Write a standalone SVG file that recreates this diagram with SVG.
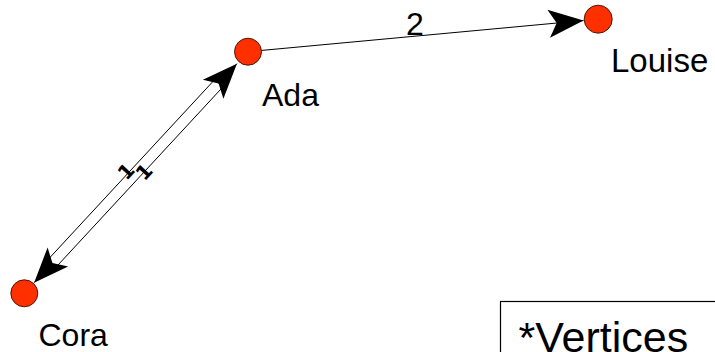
<svg xmlns="http://www.w3.org/2000/svg" width="715" height="352" viewBox="0 0 715 352">
<style>
.node circle{fill:#ff3000;stroke:#3a0a00;stroke-width:0.9}
.lbl{font-family:"Liberation Sans",Arial,Helvetica,sans-serif;font-size:32px;fill:#000}
.edge{fill:none;stroke:#000;stroke-width:1;marker-end:url(#arr)}
.elbl{font-family:"Liberation Sans",Arial,sans-serif;font-size:32px;fill:#000;text-anchor:middle}
.tick{font-family:"DejaVu Sans",sans-serif;font-weight:bold;font-size:20px;fill:#000;text-anchor:middle;dominant-baseline:central}
</style>
<defs>
<marker id="arr" markerUnits="userSpaceOnUse" viewBox="-38 -16 40 32" markerWidth="40" markerHeight="32" refX="0" refY="0" orient="auto" overflow="visible">
<path d="M0,0 L-35,-14 L-27,0 L-35,14 Z" fill="#000"/>
</marker>
</defs>
<rect width="715" height="352" fill="#fff"/>
<g id="connectors">
<g id="edge-ada-louise">
<path class="edge" d="M261.4,50.45 L583.56,20.56"/>
<text class="elbl" x="415" y="35">2</text>
</g>
<g id="edge-cora-ada">
<path class="edge" d="M44.72,263.15 L218.63,75.32 M218.58,83.46 L236.92,63.65"/>
<text class="tick" transform="translate(126,171.5) rotate(-47.2)">1</text>
</g>
<g id="edge-ada-cora">
<path class="edge" d="M226.70,82.80 L52.79,270.63 M52.42,262.93 L34.08,282.73"/>
<text class="tick" transform="translate(144,172) rotate(-47.2)">1</text>
</g>
</g>
<g id="node-ada" class="node">
<circle cx="248" cy="51.7" r="13.5"/>
<text class="lbl" x="262" y="106">Ada</text>
</g>
<g id="node-louise" class="node">
<circle cx="598.2" cy="19.2" r="14"/>
<text class="lbl" x="611" y="72" style="font-size:33px">Louise</text>
</g>
<g id="node-cora" class="node">
<circle cx="24.3" cy="293.3" r="13.5"/>
<text class="lbl" x="38.5" y="346">Cora</text>
</g>
<g id="legend">
<rect x="500.5" y="301.5" width="230" height="60" fill="none" stroke="#000" stroke-width="1.2"/>
<text class="lbl" x="518.5" y="352" style="font-size:43px">*Vertices</text>
</g>
</svg>
